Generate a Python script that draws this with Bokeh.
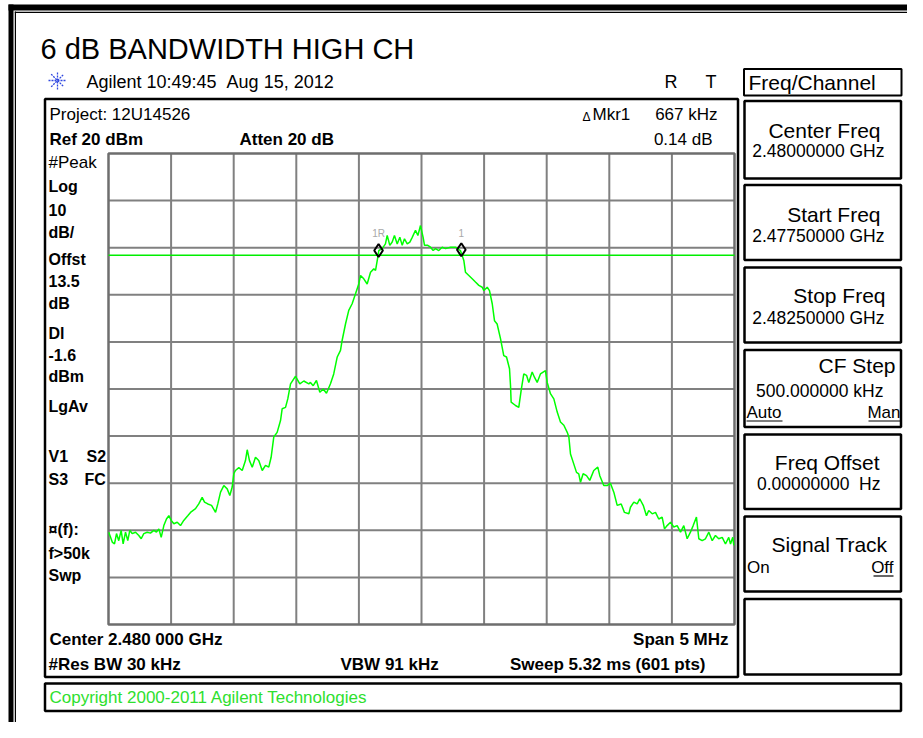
from bokeh.plotting import figure
from bokeh.models import Range1d
from bokeh.core.properties import value
from bokeh.embed import file_html
from bokeh.resources import INLINE

# ---------------- data ----------------
freq_mhz = [
    -2.498, -2.470, -2.452, -2.436, -2.418, -2.399, -2.383, -2.364, -2.346, -2.330,
    -2.311, -2.284, -2.258, -2.239, -2.218, -2.191, -2.165, -2.138, -2.117, -2.098,
    -2.079, -2.058, -2.037, -2.018, -1.999, -1.978, -1.951, -1.925, -1.899, -1.867,
    -1.845, -1.805, -1.779, -1.752, -1.733, -1.707, -1.677, -1.645, -1.627, -1.605,
    -1.579, -1.552, -1.531, -1.512, -1.499, -1.486, -1.459, -1.432, -1.406, -1.392,
    -1.374, -1.352, -1.326, -1.300, -1.272, -1.246, -1.220, -1.201, -1.180, -1.153,
    -1.126, -1.113, -1.086, -1.068, -1.046, -1.006, -0.972, -0.940, -0.900,
    -0.887, -0.865, -0.839, -0.812, -0.785, -0.759, -0.727, -0.701, -0.673, -0.647,
    -0.634, -0.607, -0.581, -0.554, -0.527, -0.501, -0.487, -0.461, -0.434, -0.407,
    -0.381, -0.367, -0.349, -0.341, -0.314, -0.288, -0.274, -0.253, -0.234, -0.216,
    -0.194, -0.173, -0.154, -0.136, -0.114, -0.093, -0.074, -0.048, -0.029, -0.008,
    0.013, 0.024, 0.050, 0.072, 0.093, 0.112, 0.138, 0.165, 0.192, 0.232,
    0.271, 0.311, 0.338, 0.351, 0.378, 0.405, 0.431, 0.458, 0.485, 0.498,
    0.525, 0.543, 0.565, 0.583, 0.604, 0.631, 0.657, 0.679, 0.703,
    0.711, 0.716, 0.751, 0.777, 0.796, 0.817, 0.839, 0.857, 0.884, 0.902,
    0.924, 0.950, 0.990, 1.004, 1.030, 1.057, 1.084, 1.110, 1.137, 1.164,
    1.177, 1.190, 1.216, 1.238, 1.256, 1.270, 1.291, 1.318, 1.344, 1.376,
    1.408, 1.424, 1.456, 1.483, 1.509, 1.536, 1.563, 1.595, 1.621, 1.656,
    1.669, 1.696, 1.723, 1.743, 1.771, 1.797, 1.815, 1.843, 1.869, 1.895,
    1.922, 1.941, 1.962, 1.989, 2.015, 2.042, 2.069, 2.095, 2.122, 2.148,
    2.170, 2.196, 2.215, 2.242, 2.268, 2.295, 2.322, 2.348, 2.374, 2.402,
    2.428, 2.454, 2.468, 2.486, 2.495,
]
level_dbm = [
    -60.4, -62.5, -62.9, -60.7, -62.2, -60.0, -62.9, -60.4, -62.2, -60.0,
    -60.7, -60.4, -61.1, -61.8, -60.7, -60.4, -60.6, -60.0, -60.4, -59.7,
    -61.5, -59.0, -57.6, -56.9, -57.9, -58.6, -58.3, -59.0, -57.9, -56.9,
    -56.2, -55.4, -54.4, -53.0, -54.0, -54.4, -54.7, -56.2, -54.4, -51.9,
    -50.5, -51.2, -52.6, -50.8, -48.0, -47.3, -46.7, -47.3, -45.2, -42.9,
    -45.2, -46.6, -44.5, -45.2, -47.3, -46.2, -46.6, -44.5, -40.2, -39.2,
    -36.7, -34.2, -33.9, -32.1, -28.9, -27.3, -28.9, -28.3, -28.9,
    -28.6, -29.3, -28.2, -30.7, -30.0, -30.9, -28.9, -26.8, -23.2, -21.8,
    -19.7, -16.2, -13.3, -11.9, -9.8, -7.7, -5.9, -6.6, -7.7, -5.2,
    -4.5, -4.8, -2.0, -0.6, -0.2, 0.8, 2.6, 0.5, 1.2, 2.6,
    0.8, 2.2, 0.5, 1.9, 0.8, 1.2, 2.2, 3.7, 2.6, 4.7,
    2.2, 0.5, 0.5, 0.1, -0.6, -0.2, -0.6, 0.1, -0.2, 0.1,
    0.1, -0.6, -2.7, -5.2, -5.9, -6.6, -7.3, -8.0, -8.4, -9.1,
    -8.4, -9.1, -11.9, -15.5, -16.2, -19.3, -22.9, -23.2, -25.7,
    -29.3, -32.8, -33.5, -33.9, -30.3, -26.8, -27.1, -28.6, -26.4, -27.5,
    -28.6, -26.8, -26.1, -28.6, -31.0, -32.1, -34.9, -37.0, -37.7, -39.2,
    -40.2, -43.8, -45.9, -47.7, -48.0, -49.8, -48.0, -48.4, -49.4, -47.3,
    -46.6, -48.4, -50.5, -50.5, -50.0, -51.9, -54.7, -54.4, -56.2, -56.5,
    -55.1, -54.0, -54.4, -53.3, -54.7, -56.9, -55.8, -56.5, -56.2, -57.6,
    -57.2, -59.7, -59.0, -58.3, -59.3, -59.0, -60.4, -59.0, -61.8, -60.4,
    -59.0, -57.2, -61.8, -62.2, -61.8, -60.4, -62.2, -61.1, -61.8, -61.5,
    -62.9, -61.5, -62.9, -61.5, -63.2,
]
freq_ticks = [-2.5, -2.0, -1.5, -1.0, -0.5, 0.0, 0.5, 1.0, 1.5, 2.0, 2.5]
level_ticks = [20, 10, 0, -10, -20, -30, -40, -50, -60, -70, -80]
display_line_dbm = -1.6
marker_freq = [-0.343, 0.318]
marker_level = [-0.59, -0.45]
marker_names = ["1R", "1"]

# ---------------- page geometry ----------------
W, H = 907, 722
PX_PER_MHZ = 125.2      # pixels per MHz on the screen grid
PX_PER_DB = 4.71        # pixels per dB
GRID_LEFT, GRID_TOP = 108, 153   # canvas position of the grid's top-left corner
BASELINE_FIX = 0.36     # text is drawn this many ems lower than asked


def fx(rx):
    return freq_ticks[0] + (rx - GRID_LEFT) / PX_PER_MHZ


def fy(ry):
    return level_ticks[0] - (ry - GRID_TOP) / PX_PER_DB


p = figure(width=W, height=H, output_backend="svg", toolbar_location=None,
           x_range=Range1d(fx(0), fx(W)), y_range=Range1d(fy(H), fy(0)),
           x_axis_type=None, y_axis_type=None, min_border=0)
p.outline_line_color = None
p.background_fill_color = "white"
p.border_fill_color = "white"


def bar(x0, y0, x1, y1, color="black"):
    p.quad(left=[fx(x0)], right=[fx(x1)], top=[fy(y0)], bottom=[fy(y1)],
           fill_color=color, line_color=None)


# outer double frame
bar(8, 4, 13, 740)
bar(14.3, 11, 15.5, 731)
bar(8, 4, 930, 10)
bar(14.3, 11.2, 930, 12.5)

# boxes (main display, softkeys, status line)
def box(x0, y0, x1, y1, lw=2.5):
    p.quad(left=[fx(x0)], right=[fx(x1)], top=[fy(y0)], bottom=[fy(y1)],
           fill_color=None, line_color="black", line_width=lw)


box(44.5, 98.5, 737.5, 676.5)
box(743.5, 68.5, 901, 95, lw=2)
soft_boxes = [(100.5, 178), (184.5, 259.5), (267, 342), (349.5, 426.5),
              (434, 508.5), (516, 591), (598.5, 674)]
for t, b in soft_boxes:
    box(744, t, 900.5, b)
box(44.5, 683, 900.5, 710.5)

# graticule
p.segment(x0=freq_ticks[1:-1], y0=[level_ticks[-1]] * 9, x1=freq_ticks[1:-1],
          y1=[level_ticks[0]] * 9, line_color="#808080", line_width=2)
p.segment(x0=[freq_ticks[0]] * 9, y0=level_ticks[1:-1], x1=[freq_ticks[-1]] * 9,
          y1=level_ticks[1:-1], line_color="#808080", line_width=2)
p.quad(left=[freq_ticks[0]], right=[freq_ticks[-1]], top=[level_ticks[0]],
       bottom=[level_ticks[-1]], fill_color=None, line_color="#6e6e6e", line_width=2.5)

# display line and trace
p.segment(x0=[freq_ticks[0]], x1=[freq_ticks[-1]], y0=[display_line_dbm],
          y1=[display_line_dbm], line_color="#00ee00", line_width=1.5)
p.line(freq_mhz, level_dbm, line_color="#00ff00", line_width=1.5)

# markers
p.scatter(marker_freq, marker_level, marker="diamond", size=13, fill_alpha=0,
          line_color="black", line_width=2)
p.text(x=marker_freq, y=marker_level, text=marker_names, text_font=value("Liberation Sans"),
       text_font_size="10px", text_color="#a8a8a8", text_align="center",
       text_baseline="alphabetic", y_offset=-13 - BASELINE_FIX * 10)

# Agilent logo
p.scatter([fx(57)], [fy(80)], marker="asterisk", size=18, line_color="#3048e0",
          line_width=1.3, line_dash="2 1")


def L(text, rx, ry, size, bold=False, align="left", color="black"):
    p.text(x=[fx(rx)], y=[fy(ry - BASELINE_FIX * size)], text=[text],
           text_font=value("Liberation Sans"), text_font_size=f"{size}px",
           text_font_style="bold" if bold else "normal",
           text_align=align, text_baseline="alphabetic", text_color=color)


NB = "\u00a0"
L("6 dB BANDWIDTH HIGH CH", 40, 59, 29)
L(f"Agilent 10:49:45 {NB}Aug 15, 2012", 86, 87.5, 18)
L("R", 664, 87.5, 18)
L("T", 705, 87.5, 18)
L("Freq/Channel", 748, 90, 21)

# display annotations
L("Project: 12U14526", 49, 120.5, 17)
L("Δ", 582, 120.5, 12)
L("Mkr1", 592, 120.5, 17)
L("667 kHz", 717, 120.5, 17, align="right")
L("Ref 20 dBm", 49, 145.5, 17, bold=True)
L("Atten 20 dB", 239, 145.5, 17, bold=True)
L("0.14 dB", 712, 145.5, 17, align="right")

side = [("#Peak", 168, False), ("Log", 191.5, True), ("10", 215, True),
        ("dB/", 238, True), ("Offst", 265, True), ("13.5", 286.5, True),
        ("dB", 308.5, True), ("Dl", 338.5, True), ("-1.6", 360, True),
        ("dBm", 381.5, True), ("LgAv", 411.5, True), ("V1", 461.5, True),
        ("S3", 485, True), ("¤(f):", 535, True), ("f>50k", 558.5, True),
        ("Swp", 580.5, True)]
for t, y, b in side:
    L(t, 48, y, 16 if b else 17, bold=b)
L("S2", 86, 461.5, 16, bold=True)
L("FC", 84, 485, 16, bold=True)

L("Center 2.480 000 GHz", 49, 645, 17, bold=True)
L("Span 5 MHz", 728, 645, 17, bold=True, align="right")
L("#Res BW 30 kHz", 48, 670, 17, bold=True)
L("VBW 91 kHz", 340, 670, 17, bold=True)
L("Sweep 5.32 ms (601 pts)", 705, 670, 17, bold=True, align="right")
L("Copyright 2000-2011 Agilent Technologies", 49, 703.5, 17, color="#2ee02e")

# softkeys
L("Center Freq", 880, 138, 21, align="right")
L("2.48000000 GHz", 884, 156.5, 17.5, align="right")
L("Start Freq", 880, 221.5, 21, align="right")
L("2.47750000 GHz", 884, 241.5, 17.5, align="right")
L("Stop Freq", 885, 303, 21, align="right")
L("2.48250000 GHz", 884, 324, 17.5, align="right")
L("CF Step", 895, 373, 21, align="right")
L("500.000000 kHz", 883, 396.5, 17.5, align="right")
L("Auto", 746, 418, 17)
L("Man", 900, 418, 17, align="right")
L("Freq Offset", 879, 470, 21, align="right")
L(f"0.00000000 {NB}Hz", 880, 490, 17.5, align="right")
L("Signal Track", 887, 551.5, 21, align="right")
L("On", 746.5, 573, 17)
L("Off", 893, 573, 17, align="right")
for x0, x1, y in [(746, 782, 420.5), (868, 900, 420.5), (873, 893, 575.5)]:
    bar(x0, y - 0.6, x1, y + 0.6)

open("out.html", "w").write(file_html(p, INLINE))
